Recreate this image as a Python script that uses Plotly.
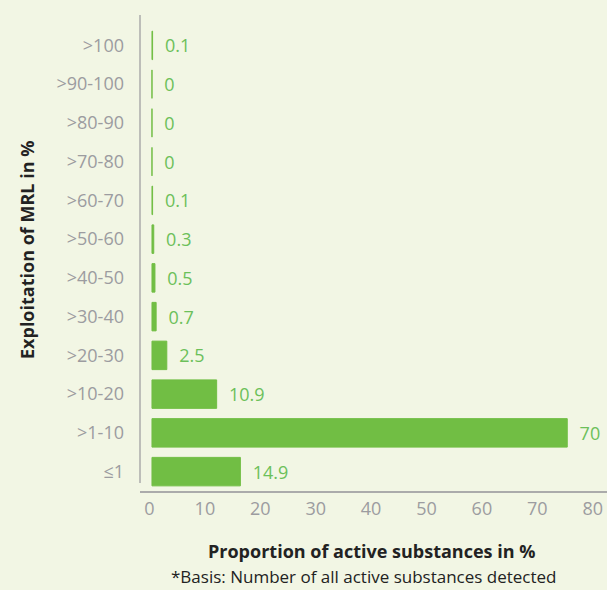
import plotly.graph_objects as go

categories = [">100", ">90-100", ">80-90", ">70-80", ">60-70", ">50-60",
              ">40-50", ">30-40", ">20-30", ">10-20", ">1-10", "≤1"]
values = [0.1, 0, 0, 0, 0.1, 0.3, 0.5, 0.7, 2.5, 10.9, 70, 14.9]
x_ticks = [0, 10, 20, 30, 40, 50, 60, 70, 80]

BG = "#f2f6e4"
GREEN = "#71be44"
TEXT_GREEN = "#6cc05a"
GRAY = "#9c9ca0"
FONT = "Open Sans"

labels = ["  " + f"{v:g}" for v in values]

fig = go.Figure()
fig.add_trace(go.Bar(
    y=categories, x=values, orientation="h",
    marker=dict(color=GREEN, line=dict(color=GREEN, width=1)),
    text=labels, textposition="outside", cliponaxis=False,
    textfont=dict(color=TEXT_GREEN, size=18, family=FONT),
    hoverinfo="skip", xaxis="x", yaxis="y",
))
# invisible trace that carries the printed tick scale
fig.add_trace(go.Scatter(
    x=[x_ticks[0], x_ticks[-1]], y=[categories[0], categories[0]],
    mode="markers", marker=dict(opacity=0), hoverinfo="skip",
    xaxis="x2", yaxis="y", showlegend=False,
))

fig.update_layout(
    width=607, height=590,
    margin=dict(l=140, r=0, t=18, b=99),
    paper_bgcolor=BG, plot_bgcolor=BG,
    showlegend=False, bargap=0.265,
    font=dict(family=FONT, color=GRAY, size=18),
    xaxis=dict(range=[-2.02, 76.7], showticklabels=False, showgrid=False,
               zeroline=False, showline=True, linecolor="#ababab", linewidth=2,
               ticks=""),
    xaxis2=dict(range=[-1.71, 82.58], overlaying="x", side="bottom",
                anchor="y", tickvals=x_ticks, ticktext=[str(t) for t in x_ticks],
                showgrid=False, zeroline=False, showline=False, ticks="",
                tickfont=dict(color=GRAY, size=18, family=FONT),
                ticklabelstandoff=5),
    yaxis=dict(categoryorder="array", categoryarray=categories[::-1],
               showgrid=False, zeroline=False, showline=False, ticks="",
               tickfont=dict(color=GRAY, size=18, family=FONT),
               ticklabelstandoff=15),
)

fig.add_shape(type="line", xref="paper", yref="paper",
              x0=0, x1=0, y0=(491 - 483) / 473, y1=(491 - 15) / 473,
              line=dict(color="#ababab", width=1.5))

fig.add_annotation(text="<b>Exploitation of MRL in %</b>", textangle=-90,
                   xref="paper", yref="paper", x=(27 - 140) / 467,
                   y=(491 - 250) / 473, showarrow=False,
                   font=dict(family=FONT, size=18, color="#222222"),
                   xanchor="center", yanchor="middle")
fig.add_annotation(text="<b>Proportion of active substances in %</b>",
                   xref="paper", yref="paper", x=(371 - 140) / 467,
                   y=(491 - 551) / 473, showarrow=False,
                   font=dict(family=FONT, size=18, color="#222222"),
                   xanchor="center", yanchor="middle")
fig.add_annotation(text="*Basis: Number of all active substances detected",
                   xref="paper", yref="paper", x=(364 - 140) / 467,
                   y=(491 - 576) / 473, showarrow=False,
                   font=dict(family=FONT, size=17, color="#222222"),
                   xanchor="center", yanchor="middle")

fig.write_html("out.html", config={"displayModeBar": False},
               post_script="document.body.style.margin='0';")
